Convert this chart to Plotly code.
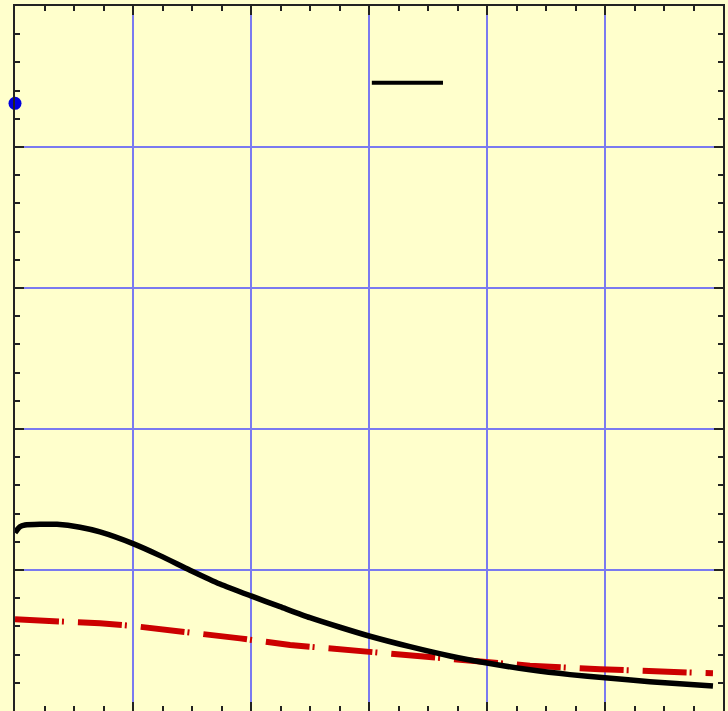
import plotly.graph_objects as go

# Data
curve_x = [0.0, 0.042, 0.085, 0.212, 0.356, 0.551, 0.720, 1.0, 1.229, 1.483, 1.737, 2.0,
           2.246, 2.5, 2.754, 3.008, 3.347, 3.686, 4.0, 4.364, 4.703, 5.0, 5.381, 5.915]
curve_y = [1.265, 1.307, 1.319, 1.324, 1.324, 1.303, 1.270, 1.187, 1.102, 0.999, 0.901, 0.816,
           0.740, 0.662, 0.594, 0.530, 0.456, 0.390, 0.340, 0.292, 0.258, 0.236, 0.208, 0.177]

ref_x = [0.0, 0.381, 0.720, 1.0, 1.398, 1.907, 2.331, 2.966, 3.432, 4.0, 4.364, 4.958, 5.466, 5.915]
ref_y = [0.650, 0.638, 0.622, 0.603, 0.567, 0.515, 0.468, 0.420, 0.390, 0.343, 0.321, 0.296, 0.279, 0.267]

point_x = [0.0]
point_y = [4.31]

bg = "#FFFFCC"
grid = "#7a7af0"

fig = go.Figure()
fig.add_trace(go.Scatter(x=ref_x, y=ref_y, mode="lines",
                         line=dict(color="#cc0000", width=6, dash="44px,3px,2px,14px"),
                         showlegend=False, hoverinfo="skip"))
fig.add_trace(go.Scatter(x=curve_x, y=curve_y, mode="lines",
                         line=dict(color="black", width=5.5, shape="spline", smoothing=0.6),
                         showlegend=False, hoverinfo="skip"))
fig.add_trace(go.Scatter(x=point_x, y=point_y, mode="markers",
                         marker=dict(color="#0000dd", size=13),
                         showlegend=False, cliponaxis=False, hoverinfo="skip"))

axis_common = dict(
    showline=True, linecolor="#222222", linewidth=2, mirror="allticks",
    ticks="inside", ticklen=9, tickwidth=2, tickcolor="#222222",
    showticklabels=False, showgrid=True, gridcolor=grid, gridwidth=1.5,
    zeroline=False,
)

fig.update_xaxes(range=[0, 6], dtick=1, tick0=0,
                 minor=dict(dtick=0.25, ticks="inside", ticklen=5, tickwidth=2,
                            tickcolor="#222222", showgrid=False),
                 **axis_common)
fig.update_yaxes(range=[0, 5], dtick=1, tick0=0,
                 minor=dict(dtick=0.2, ticks="inside", ticklen=5, tickwidth=2,
                            tickcolor="#222222", showgrid=False),
                 **axis_common)

fig.add_shape(type="line", xref="paper", yref="paper",
              x0=0.504, x1=0.6045, y0=0.891, y1=0.891,
              line=dict(color="black", width=4))

fig.update_layout(
    width=728, height=711,
    margin=dict(l=15, r=5, t=6, b=0),
    paper_bgcolor=bg, plot_bgcolor=bg,
    showlegend=False,
)

fig.write_html("out.html", config={"displayModeBar": False},
               post_script="document.body.style.margin='0px';document.body.style.background='#FFFFCC';")
